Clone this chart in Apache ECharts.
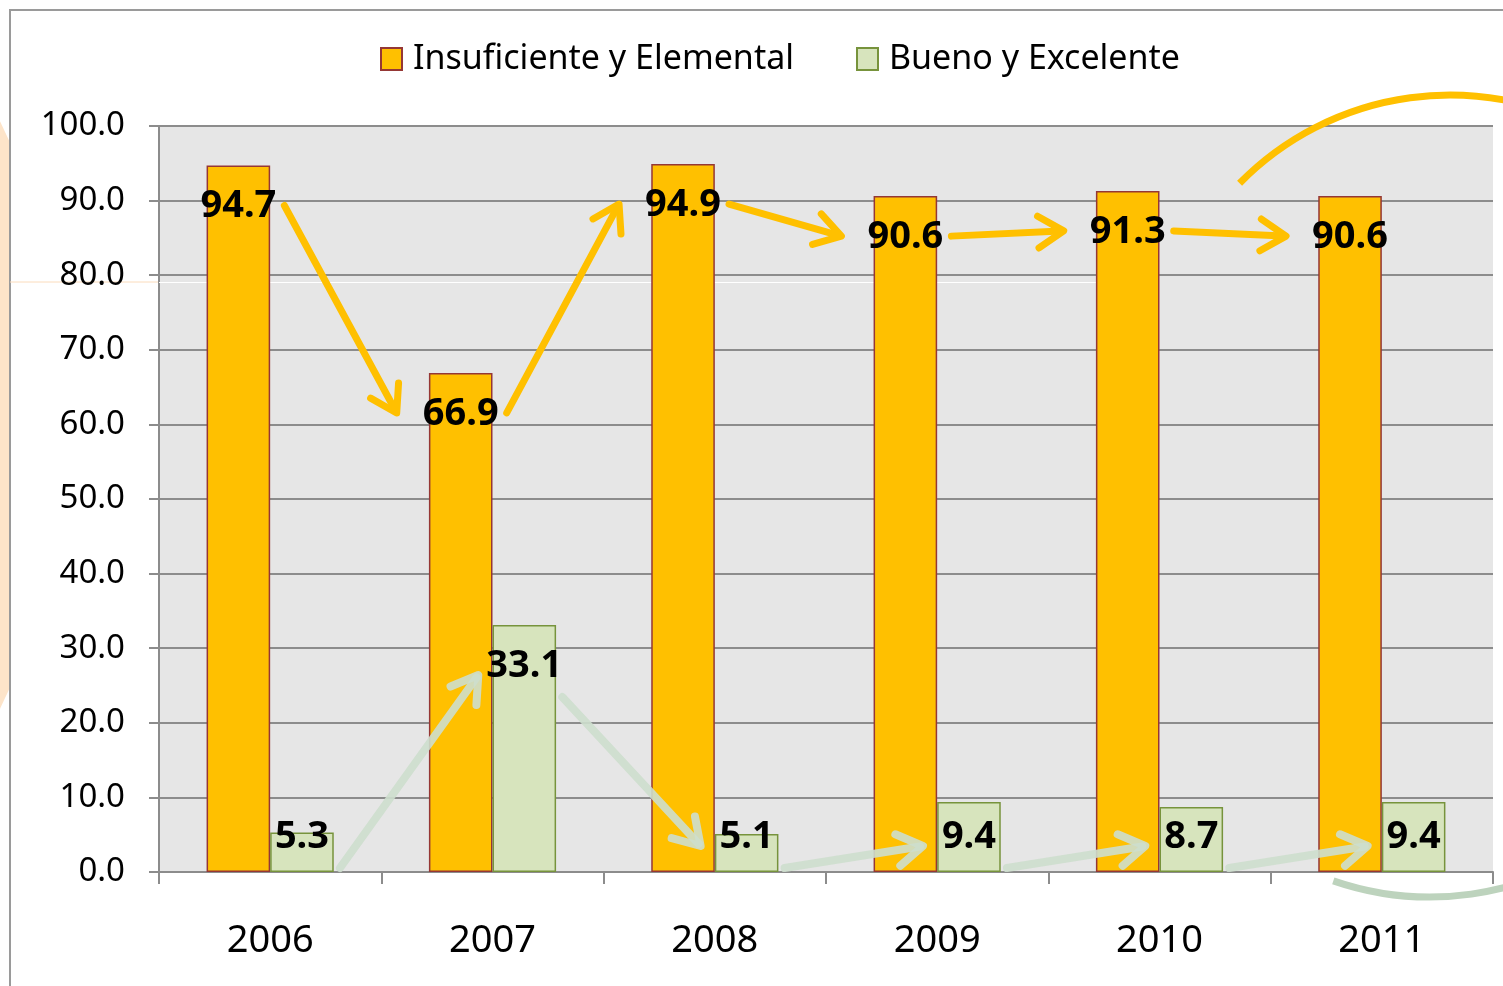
<!DOCTYPE html>
<html>
<head>
<meta charset="utf-8">
<script src="https://cdn.jsdelivr.net/npm/echarts@6/dist/echarts.min.js"></script>
<style>
html,body{margin:0;padding:0;background:#fff;}
#chart{width:1503px;height:986px;}
</style>
</head>
<body>
<div id="chart"></div>
<script>
const categories = ['2006', '2007', '2008', '2009', '2010', '2011'];
const insuficiente = [94.7, 66.9, 94.9, 90.6, 91.3, 90.6];
const bueno = [5.3, 33.1, 5.1, 9.4, 8.7, 9.4];
const seriesNames = ['Insuficiente y Elemental', 'Bueno y Excelente'];

const BAR_RATIO = 0.286;
const SMALL = 15;
const FONT = 'Noto Sans';

function labelFor(v) {
  return v < SMALL
    ? { position: 'insideBottom', distance: 16 }
    : { position: 'insideTop', distance: 22 };
}
function barData(arr) {
  return arr.map(v => ({ value: v, label: labelFor(v) }));
}
function pairs(arr) {
  return arr.slice(0, -1).map((v, i) => [i, v, arr[i + 1]]);
}

function arrowRender(side, color, width, sOff, eOff) {
  return function (params, api) {
    const i = api.value(0), v0 = api.value(1), v1 = api.value(2);
    const band = api.size([1, 0])[0];
    const shift = side * band * BAR_RATIO / 2;
    const base = api.coord([i, 0])[1];
    const lab = (idx, v) => {
      const p = api.coord([idx, v]);
      const y = v < SMALL ? base - 36 : p[1] + 40;
      return [p[0] + shift, y];
    };
    const a = lab(i, v0), b = lab(i + 1, v1);
    const s = [a[0] + sOff[0], a[1] + sOff[1]];
    const e = [b[0] + eOff[0], b[1] + eOff[1]];
    const dx = e[0] - s[0], dy = e[1] - s[1];
    const len = Math.sqrt(dx * dx + dy * dy);
    const ux = dx / len, uy = dy / len;
    const L = 30, ang = 32 * Math.PI / 180;
    const rot = (x, y, t) => [x * Math.cos(t) - y * Math.sin(t), x * Math.sin(t) + y * Math.cos(t)];
    const r1 = rot(ux, uy, ang), r2 = rot(ux, uy, -ang);
    const p1 = [e[0] - L * r1[0], e[1] - L * r1[1]];
    const p2 = [e[0] - L * r2[0], e[1] - L * r2[1]];
    const st = { stroke: color, lineWidth: width, lineCap: 'round', lineJoin: 'round', fill: null };
    return {
      type: 'group',
      children: [
        { type: 'line', shape: { x1: s[0], y1: s[1], x2: e[0] - ux * 3, y2: e[1] - uy * 3 }, style: st },
        { type: 'polyline', shape: { points: [p1, e, p2] }, style: st }
      ]
    };
  };
}

const chart = echarts.init(document.getElementById('chart'), null, { renderer: 'canvas' });

const option = {
  backgroundColor: '#ffffff',
  animation: false,
  textStyle: { fontFamily: FONT },
  graphic: [
    { type: 'circle', z: -10, shape: { cx: -600, cy: 415, r: 668 }, style: { fill: '#fde4c9' } },
    { type: 'rect', z: -9, shape: { x: 10, y: 10, width: 1520, height: 1000 }, style: { fill: '#ffffff', stroke: '#9a9a9a', lineWidth: 2 } },
    { type: 'line', z: -8, shape: { x1: 10, y1: 282, x2: 159, y2: 282 }, style: { stroke: '#fbdcbc', lineWidth: 1 } },
    { type: 'line', z: 2, shape: { x1: 159, y1: 282.5, x2: 1152, y2: 282.5 }, style: { stroke: '#ffffff', lineWidth: 1 } },
    { type: 'arc', z: 20, shape: { cx: 1450, cy: 390, r: 295, startAngle: -135.5 * Math.PI / 180, endAngle: -60 * Math.PI / 180, clockwise: true }, style: { stroke: '#ffc000', lineWidth: 7, fill: null } },
    { type: 'arc', z: 20, shape: { cx: 1430, cy: 600, r: 297, startAngle: 55 * Math.PI / 180, endAngle: 109 * Math.PI / 180, clockwise: true }, style: { stroke: '#bdd3bd', lineWidth: 7, fill: null } }
  ],
  legend: {
    data: seriesNames,
    top: 37,
    left: 375,
    itemWidth: 21,
    itemHeight: 22,
    itemGap: 62,
    icon: 'rect',
    textStyle: { fontSize: 34, color: '#000', fontFamily: FONT, padding: [0, 0, 0, 6] }
  },
  grid: { left: 159, right: 10, top: 126, bottom: 114, containLabel: false, show: true, backgroundColor: '#e6e6e6', borderWidth: 0 },
  xAxis: {
    type: 'category',
    data: categories,
    boundaryGap: true,
    axisLine: { show: true, lineStyle: { color: '#8c8c8c', width: 2 } },
    axisTick: { show: true, length: 12, alignWithLabel: false, lineStyle: { color: '#8c8c8c', width: 2 } },
    axisLabel: { fontSize: 38, color: '#000', margin: 50, fontFamily: FONT },
    splitLine: { show: false }
  },
  yAxis: {
    type: 'value',
    min: 0,
    max: 100,
    interval: 10,
    axisLine: { show: true, lineStyle: { color: '#8c8c8c', width: 2 } },
    axisTick: { show: true, length: 10, lineStyle: { color: '#8c8c8c', width: 2 } },
    axisLabel: { fontSize: 33, color: '#000', margin: 34, fontFamily: FONT, formatter: v => v.toFixed(1) },
    splitLine: { show: true, lineStyle: { color: '#8c8c8c', width: 2 } }
  },
  series: [
    {
      name: seriesNames[0],
      type: 'bar',
      barWidth: (BAR_RATIO * 100) + '%',
      barGap: '0%',
      data: barData(insuficiente),
      itemStyle: { color: '#ffc000', borderColor: '#953735', borderWidth: 1.5 },
      label: { show: true, color: '#000', fontWeight: 'bold', fontSize: 38, fontFamily: FONT, formatter: p => p.value.toFixed(1) },
      z: 3
    },
    {
      name: seriesNames[1],
      type: 'bar',
      barWidth: (BAR_RATIO * 100) + '%',
      barGap: '0%',
      data: barData(bueno),
      itemStyle: { color: '#d7e4bd', borderColor: '#77933c', borderWidth: 1.5 },
      label: { show: true, color: '#000', fontWeight: 'bold', fontSize: 38, fontFamily: FONT, formatter: p => p.value.toFixed(1) },
      z: 3
    },
    {
      type: 'custom',
      name: 'arrowsOrange',
      silent: true,
      z: 10,
      clip: false,
      data: pairs(insuficiente),
      encode: { x: 0, y: 1 },
      renderItem: arrowRender(-1, '#ffc000', 7, [46, 0], [-64, 0])
    },
    {
      type: 'custom',
      name: 'arrowsGreen',
      silent: true,
      z: 10,
      clip: false,
      data: pairs(bueno),
      encode: { x: 0, y: 1 },
      renderItem: arrowRender(1, 'rgba(205,222,205,0.9)', 8, [38, 32], [-46, 10])
    }
  ]
};
chart.setOption(option);
</script>
</body>
</html>
